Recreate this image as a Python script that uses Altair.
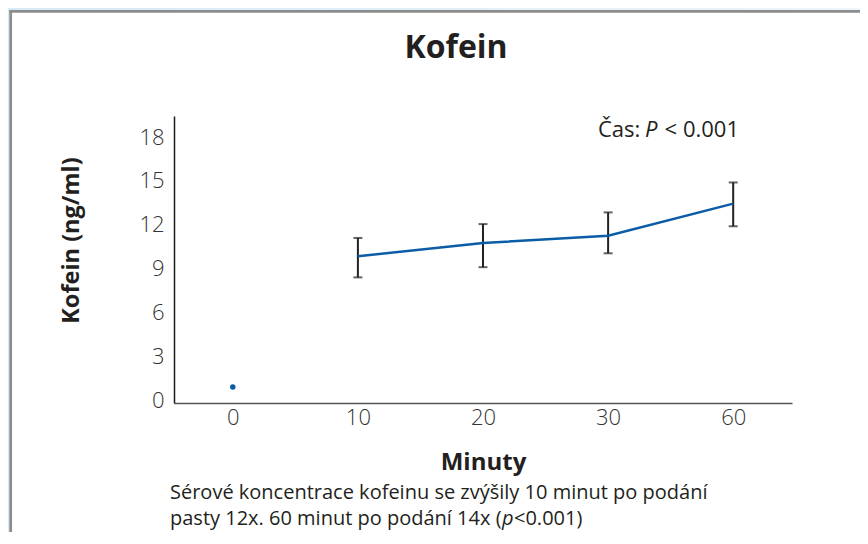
import altair as alt
import pandas as pd

# ---- data ----
minutes = ["0", "10", "20", "30", "60"]
mean = [0.9, 9.85, 10.75, 11.25, 13.45]
upper = [None, 11.1, 12.05, 12.85, 14.9]
lower = [None, 8.4, 9.1, 10.05, 11.9]
y_ticks = [0, 3, 6, 9, 12, 15, 18]

title_text = "Kofein"
y_title = "Kofein (ng/ml)"
x_title = "Minuty"
caption1 = "Sérové koncentrace kofeinu se zvýšily 10 minut po podání"
caption2a = "pasty 12x. 60 minut po podání 14x ("
caption2b = "p"
caption2c = "<0.001)"
stat_a = "Čas:"
stat_b = "P"
stat_c = "< 0.001"

df = pd.DataFrame({"min": minutes, "mean": mean, "upper": upper, "lower": lower})

W, H = 618, 287
FONT = "Open Sans"
BLUE = "#0b5ca6"
INK = "#231f20"

xscale = alt.Scale(type="point", domain=minutes, padding=0.47)
yscale = alt.Scale(domain=[-0.2, 19.45], nice=False, zero=False)

xaxis = alt.Axis(
    title=x_title, labelAngle=0, ticks=False, grid=False,
    domainColor="#555555", domainWidth=1.5,
    labelFont=FONT, labelFontSize=22, labelFontWeight=300, labelColor="#333333",
    labelPadding=4,
    titleFont=FONT, titleFontSize=24, titleFontWeight="bold", titleColor=INK,
    titleX=W / 2, titleY=59, titleBaseline="middle", titleAlign="center",
    zindex=1,
)
yaxis = alt.Axis(
    title=y_title, values=y_ticks, ticks=False, grid=False,
    domainColor="#1a1a1a", domainWidth=1.5,
    labelFont=FONT, labelFontSize=22, labelFontWeight=300, labelColor="#333333",
    labelPadding=10,
    titleFont=FONT, titleFontSize=23.5, titleFontWeight="bold", titleColor=INK,
    titleX=-103, titleY=124, titleAngle=270, titleBaseline="middle", titleAlign="center",
    zindex=1,
)

one = alt.Data(values=[{"k": 0}])

bg = alt.Chart(one).mark_rect(
    fill=alt.Gradient(
        gradient="linear",
        stops=[alt.GradientStop(color="#d6eaf8", offset=0), alt.GradientStop(color="#eef5fa", offset=1)],
        x1=0, x2=1, y1=0, y2=0,
    )
).encode(x=alt.value(-166), x2=alt.value(686), y=alt.value(-108), y2=alt.value(416))

card = alt.Chart(one).mark_rect(fill="white").encode(
    x=alt.value(-164), x2=alt.value(686), y=alt.value(-105), y2=alt.value(416)
)
border_left = alt.Chart(one).mark_rule(color="#8c8c8c", strokeWidth=2.7).encode(
    x=alt.value(-163.3), y=alt.value(-106), y2=alt.value(416)
)
border_top = alt.Chart(one).mark_rule(color="#8c8c8c", strokeWidth=2.7).encode(
    y=alt.value(-104.7), x=alt.value(-164.6), x2=alt.value(686)
)

base = alt.Chart(df)
X = alt.X("min:O", scale=xscale, axis=xaxis)

err = base.transform_filter("datum.upper != null").mark_rule(color="#222222", strokeWidth=2).encode(
    x=X, y=alt.Y("lower:Q", scale=yscale, axis=yaxis), y2="upper:Q"
)
cap_hi = base.transform_filter("datum.upper != null").mark_tick(color="#222222", thickness=2, size=9).encode(
    x=X, y=alt.Y("upper:Q", scale=yscale, axis=yaxis)
)
cap_lo = base.transform_filter("datum.upper != null").mark_tick(color="#222222", thickness=2, size=9).encode(
    x=X, y=alt.Y("lower:Q", scale=yscale, axis=yaxis)
)
line = base.transform_filter("datum.min != '0'").mark_line(color=BLUE, strokeWidth=2.5).encode(
    x=X, y=alt.Y("mean:Q", scale=yscale, axis=yaxis)
)
pt = base.transform_filter("datum.min == '0'").mark_circle(color=BLUE, size=30, opacity=1).encode(
    x=X, y=alt.Y("mean:Q", scale=yscale, axis=yaxis)
)


def txt(s, x, y, size, weight="normal", style="normal", align="left", baseline="middle"):
    return alt.Chart(one).mark_text(
        text=s, font=FONT, fontSize=size, fontWeight=weight, fontStyle=style,
        align=align, baseline=baseline, color=INK,
    ).encode(x=alt.value(x), y=alt.value(y))


texts = [
    txt(title_text, 282, -58, 32, weight="bold", align="center", baseline="alphabetic"),
    txt(stat_a, 424, 14, 22),
    txt(stat_b, 471, 14, 22, style="italic"),
    txt(stat_c, 565, 14, 22, align="right"),
    txt(caption1, -4, 383, 20, baseline="alphabetic"),
    txt(caption2a, -4, 409, 20, baseline="alphabetic"),
    txt(caption2b, 328, 409, 20, style="italic", baseline="alphabetic"),
    txt(caption2c, 340, 409, 20, baseline="alphabetic"),
]

chart = alt.layer(bg, card, border_left, border_top, err, cap_hi, cap_lo, line, pt, *texts).properties(
    width=W, height=H,
    padding={"left": 166, "top": 108, "right": 68, "bottom": 129},
    autosize=alt.AutoSizeParams(type="none"),
).configure_view(strokeWidth=0)

chart.save("out.html", embed_options={"renderer": "svg", "actions": False})
